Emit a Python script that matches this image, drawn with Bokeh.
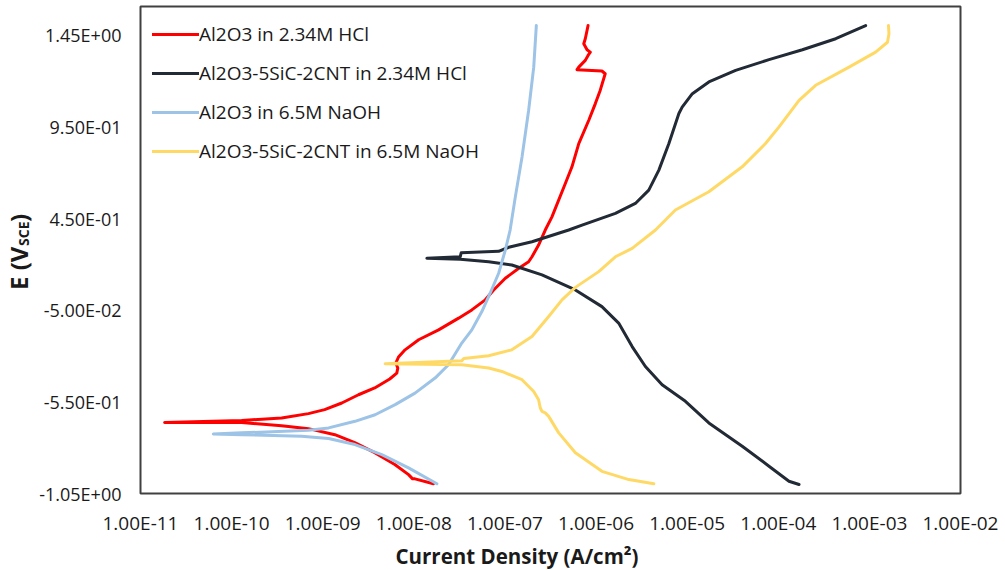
import math
from bokeh.plotting import figure
from bokeh.layouts import row
from bokeh.models import (FixedTicker, CustomJSTickFormatter, Label, Legend, LegendItem, Title)
from bokeh.embed import file_html
from bokeh.resources import INLINE

# ---------------- data ----------------
x_ticks = [1e-11, 1e-10, 1e-9, 1e-8, 1e-7, 1e-6, 1e-5, 1e-4, 1e-3, 1e-2]
y_ticks = [-1.05, -0.55, -0.05, 0.45, 0.95, 1.45]

series_names = ["Al2O3 in 2.34M HCl", "Al2O3-5SiC-2CNT in 2.34M HCl",
                "Al2O3 in 6.5M NaOH", "Al2O3-5SiC-2CNT in 6.5M NaOH"]
series_colors = ["#FF0000", "#222A35", "#9DC3E6", "#FFD966"]

al2o3_hcl_i = [1.64e-8, 1.03e-8, 9.7e-9, 8.75e-9, 6.18e-9, 3.72e-9, 2.25e-9, 1.36e-9,
               6.97e-10, 3.54e-10, 1.29e-10, 1.84e-11,
               1.29e-10, 3.54e-10, 6.97e-10, 1.05e-9, 1.62e-9, 2.47e-9, 3.72e-9, 5.44e-9,
               6.50e-9, 6.67e-9, 6.34e-9, 6.79e-9, 8.01e-9, 1.13e-8, 1.87e-8, 3.10e-8,
               4.33e-8, 6.08e-8, 7.52e-8, 1.01e-7, 1.42e-7, 1.82e-7, 1.98e-7, 2.34e-7,
               2.77e-7, 3.28e-7, 4.60e-7, 5.44e-7, 6.46e-7, 8.32e-7, 9.82e-7, 1.11e-6,
               1.26e-6, 1.16e-6, 6.18e-7, 6.46e-7, 7.62e-7, 8.17e-7, 8.65e-7, 7.96e-7,
               7.33e-7, 7.62e-7, 7.96e-7, 8.17e-7]
al2o3_hcl_e = [-0.997, -0.970, -0.970, -0.947, -0.892, -0.827, -0.772, -0.729,
               -0.696, -0.680, -0.663, -0.662,
               -0.651, -0.638, -0.614, -0.592, -0.556, -0.511, -0.474, -0.425,
               -0.393, -0.365, -0.338, -0.305, -0.266, -0.211, -0.157, -0.093,
               -0.048, 0.007, 0.061, 0.125, 0.179, 0.215, 0.242, 0.306,
               0.388, 0.460, 0.642, 0.733, 0.860, 0.987, 1.078, 1.150,
               1.241, 1.256, 1.263, 1.277, 1.314, 1.341, 1.359, 1.372,
               1.405, 1.432, 1.477, 1.504]

composite_hcl_i = [1.69e-4, 1.31e-4, 7.91e-5, 4.02e-5, 1.73e-5, 9.57e-6, 5.31e-6, 3.48e-6,
                   2.49e-6, 1.77e-6, 1.16e-6, 5.93e-7, 2.55e-7, 1.19e-7, 6.62e-8, 3.23e-8,
                   1.39e-8,
                   3.23e-8, 3.31e-8, 8.53e-8, 1.10e-7, 1.98e-7, 5.01e-7, 7.02e-7, 1.63e-6,
                   2.70e-6, 3.79e-6, 4.89e-6, 6.30e-6, 8.11e-6, 8.81e-6, 1.14e-5, 1.73e-5,
                   3.40e-5, 7.91e-5, 1.84e-4, 4.27e-4, 9.10e-4]
composite_hcl_e = [-1.001, -0.983, -0.901, -0.792, -0.665, -0.547, -0.456, -0.357,
                   -0.248, -0.120, -0.030, 0.061, 0.143, 0.197, 0.215, 0.228,
                   0.234,
                   0.242, 0.264, 0.272, 0.294, 0.324, 0.388, 0.415, 0.479,
                   0.533, 0.606, 0.715, 0.860, 1.024, 1.059, 1.132, 1.196,
                   1.259, 1.318, 1.372, 1.432, 1.504]

al2o3_naoh_i = [1.79e-8, 8.75e-9, 4.45e-9, 2.26e-9, 1.16e-9, 5.87e-10, 1.29e-10, 6.30e-11,
                1.29e-10, 6.97e-10, 1.16e-9, 2.26e-9, 3.76e-9, 6.24e-9, 1.03e-8, 1.71e-8,
                2.40e-8, 3.36e-8, 4.33e-8, 5.58e-8, 6.88e-8, 8.53e-8, 1.01e-7, 1.14e-7,
                1.30e-7, 1.54e-7, 1.82e-7, 2.07e-7, 2.21e-7]
al2o3_naoh_e = [-0.997, -0.910, -0.838, -0.783, -0.750, -0.738, -0.729, -0.725,
                -0.719, -0.705, -0.692, -0.656, -0.620, -0.565, -0.502, -0.420,
                -0.347, -0.229, -0.157, -0.057, 0.043, 0.152, 0.279, 0.388,
                0.569, 0.787, 1.042, 1.277, 1.504]

composite_naoh_i = [4.31e-6, 2.29e-6, 1.16e-6, 5.93e-7, 3.89e-7, 3.02e-7, 2.77e-7, 2.55e-7,
                    2.44e-7, 2.34e-7, 2.07e-7, 1.54e-7, 9.27e-8, 6.62e-8, 3.36e-8, 4.84e-9,
                    3.36e-8, 3.54e-8, 6.62e-8, 1.19e-7, 1.98e-7, 3.02e-7, 4.23e-7, 5.93e-7,
                    1.07e-6, 1.63e-6, 2.49e-6, 4.49e-6, 7.43e-6, 1.73e-5, 4.02e-5, 7.24e-5,
                    1.02e-4, 1.69e-4, 2.57e-4, 5.98e-4, 1.17e-3, 1.58e-3, 1.64e-3, 1.62e-3]
composite_naoh_e = [-0.997, -0.974, -0.929, -0.828, -0.719, -0.629, -0.610, -0.602,
                    -0.582, -0.538, -0.493, -0.429, -0.384, -0.365, -0.347, -0.342,
                    -0.326, -0.313, -0.298, -0.266, -0.193, -0.084, 0.007, 0.075,
                    0.161, 0.242, 0.288, 0.388, 0.497, 0.597, 0.733, 0.860,
                    0.951, 1.096, 1.178, 1.277, 1.359, 1.413, 1.459, 1.504]

x_title = "Current Density (A/cm\u00b2)"
y_title_main = "E (V"
y_title_sub = "SCE"
y_title_end = ")"

FONT = "Open Sans"
TXT = "#1a1a1a"

# ---------------- main figure ----------------
p_main = figure(width=964, height=570, x_axis_type="log",
                x_range=(1e-11, 1e-2), y_range=(-1.05, 1.608),
                output_backend="svg", toolbar_location=None,
                min_border_left=103, min_border_right=40,
                min_border_top=6, min_border_bottom=76)
p_main.grid.visible = False
p_main.outline_line_color = "#404040"
p_main.outline_line_width = 2
p_main.background_fill_color = "white"
p_main.border_fill_color = "white"

fmt = CustomJSTickFormatter(code="""
const s = tick.toExponential(2).toUpperCase();
const parts = s.split('E');
const e = parts[1];
const sign = e[0];
let d = e.slice(1);
if (d.length < 2) { d = '0' + d; }
return parts[0] + 'E' + sign + d;
""")

for ax in (p_main.xaxis[0], p_main.yaxis[0]):
    ax.formatter = fmt
    ax.axis_line_color = None
    ax.major_tick_line_color = None
    ax.minor_tick_line_color = None
    ax.major_tick_out = 0
    ax.major_tick_in = 0
    ax.minor_tick_out = 0
    ax.minor_tick_in = 0
    ax.major_label_text_font = FONT
    ax.major_label_text_color = TXT
    ax.axis_label = None

p_main.xaxis[0].major_label_text_font_size = "19px"
p_main.yaxis[0].major_label_text_font_size = "18px"
p_main.xaxis[0].ticker = FixedTicker(ticks=x_ticks)
p_main.yaxis[0].ticker = FixedTicker(ticks=y_ticks)
p_main.xaxis[0].major_label_standoff = 16
p_main.yaxis[0].major_label_standoff = 19

xs_all = [al2o3_hcl_i, composite_hcl_i, al2o3_naoh_i, composite_naoh_i]
ys_all = [al2o3_hcl_e, composite_hcl_e, al2o3_naoh_e, composite_naoh_e]
renderers = []
for xs, ys, c in zip(xs_all, ys_all, series_colors):
    r = p_main.line(xs, ys, line_color=c, line_width=3, line_join="round", line_cap="round")
    renderers.append(r)

legend = Legend(items=[LegendItem(label=n, renderers=[r]) for n, r in zip(series_names, renderers)],
                location="top_left", margin=12, padding=10, spacing=7,
                glyph_width=47, glyph_height=32, label_height=32, label_standoff=0,
                label_text_font=FONT, label_text_font_size="19px", label_text_color=TXT,
                border_line_color=None, background_fill_alpha=0)
p_main.add_layout(legend)

p_main.add_layout(Title(text=x_title, align="left", offset=255, standoff=2,
                        text_font=FONT, text_font_style="bold",
                        text_font_size="20.5px", text_color=TXT), "below")

# ---------------- narrow panel holding the rotated y title ----------------
# shares the potential range so its frame lines up with the main plot frame
p_ylab = figure(width=36, height=570, x_range=(0, 36), y_range=p_main.y_range,
                output_backend="svg", toolbar_location=None,
                min_border=0, outline_line_color=None)
p_ylab.axis.visible = False
p_ylab.grid.visible = False
p_ylab.add_layout(Label(x=18, y=0.061, text=y_title_main, angle=math.pi / 2,
                        text_align="left", text_baseline="middle", text_font=FONT,
                        text_font_style="bold", text_font_size="24px", text_color=TXT))
p_ylab.add_layout(Label(x=22.9, y=0.3008, text=y_title_sub, angle=math.pi / 2,
                        text_align="left", text_baseline="middle", text_font=FONT,
                        text_font_style="bold", text_font_size="14px", text_color=TXT))
p_ylab.add_layout(Label(x=18, y=0.4315, text=y_title_end, angle=math.pi / 2,
                        text_align="left", text_baseline="middle", text_font=FONT,
                        text_font_style="bold", text_font_size="24px", text_color=TXT))

p = row(p_ylab, p_main)
open("out.html", "w").write(file_html(p, INLINE))
